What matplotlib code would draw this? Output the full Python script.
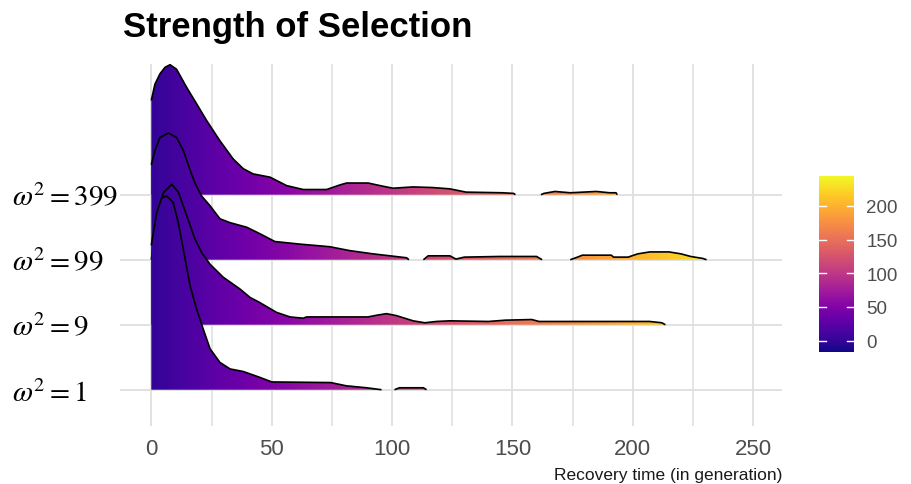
import numpy as np
import matplotlib
matplotlib.use('Agg')
import matplotlib.pyplot as plt
from matplotlib.path import Path
from matplotlib.patches import PathPatch
from matplotlib.colors import Normalize
from matplotlib.cm import ScalarMappable

plt.rcParams['mathtext.fontset'] = 'stix'
plt.rcParams['font.family'] = ['Liberation Sans', 'DejaVu Sans']

nan = np.nan

# group labels, bottom to top
groups = [r'$\omega^2 = 1$', r'$\omega^2 = 9$', r'$\omega^2 = 99$', r'$\omega^2 = 399$']

# recovery time and scaled ridge height (in rows); nan marks a gap in the density
x_w1 = [0, 2.2, 4.3, 6.4, 9.1, 11.2, 13.3, 16.1, 18.8, 21.6, 24.4, 28.5, 32.7, 38.2, 45.1,
        50, 74.5, 81, 89.4, 95.6, nan, 101, 103, 113, 114.3]
h_w1 = [2.22, 2.72, 2.95, 2.98, 2.88, 2.57, 2.16, 1.60, 1.24, 0.93, 0.63, 0.42, 0.32, 0.28, 0.19,
        0.12, 0.11, 0.06, 0.03, 0.0, nan, 0.0, 0.03, 0.03, 0.0]

x_w9 = [0, 2, 5, 8.5, 11.2, 14.7, 18.1, 20.9, 24.4, 29.9, 36.8, 41, 45.1, 52, 57.6, 63.1, 64.5,
        90, 94.2, 97.7, 101.8, 108.7, 113.6, 118.4, 124, 140, 147, 158, 161, 207, 212, 213.5]
h_w9 = [1.0, 1.55, 2.03, 2.16, 2.04, 1.68, 1.32, 1.11, 0.93, 0.73, 0.55, 0.42, 0.34, 0.19, 0.12, 0.10, 0.12,
        0.12, 0.15, 0.17, 0.14, 0.06, 0.03, 0.05, 0.06, 0.05, 0.07, 0.08, 0.05, 0.05, 0.03, 0.0]

x_w99 = [0, 1.5, 3.6, 7.1, 10.5, 13.3, 16.1, 18.1, 20.9, 24.4, 28.5, 32.7, 39.6, 45.1, 51.3, 61.7,
         74.1, 82.4, 92.1, 99.1, 106, 107, nan, 113, 115, 124, 126.5, 130, 144.6, 159, 160, 162.3,
         nan, 174, 177, 179, 191, 192, 198, 202, 207, 215, 220, 224, 229, 230.6]
h_w99 = [1.46, 1.68, 1.88, 1.95, 1.88, 1.68, 1.38, 1.18, 0.98, 0.83, 0.63, 0.57, 0.50, 0.40, 0.28, 0.24,
         0.20, 0.14, 0.09, 0.06, 0.03, 0.0, nan, 0.0, 0.06, 0.06, 0.01, 0.04, 0.05, 0.05, 0.05, 0.0,
         nan, 0.0, 0.04, 0.07, 0.07, 0.04, 0.04, 0.09, 0.12, 0.12, 0.09, 0.05, 0.02, 0.0]

x_w399 = [0, 1.5, 3.6, 5.7, 7.8, 10.5, 14.7, 18.8, 23, 28.5, 34, 38.2, 42.3, 49.3, 56.2, 63.1, 72.8,
          78.3, 81.1, 90, 96.3, 100.4, 108.7, 117, 124, 130.7, 145.9, 150.5, 151.2, nan,
          161.8, 163, 167.6, 174, 184.8, 190.3, 193, 193.5]
h_w399 = [1.45, 1.70, 1.86, 1.96, 2.00, 1.93, 1.65, 1.40, 1.14, 0.83, 0.55, 0.40, 0.32, 0.27, 0.14, 0.08, 0.08,
          0.15, 0.18, 0.18, 0.13, 0.10, 0.12, 0.11, 0.09, 0.04, 0.03, 0.02, 0.0, nan,
          0.0, 0.02, 0.05, 0.03, 0.05, 0.03, 0.03, 0.0]

ridges = [(x_w1, h_w1), (x_w9, h_w9), (x_w99, h_w99), (x_w399, h_w399)]

# fill colour scale range (recovery time)
fill_min, fill_max = -17.3, 244.8
cbar_ticks = [0, 50, 100, 150, 200]
x_major = [0, 50, 100, 150, 200, 250]
x_minor = [25, 75, 125, 175, 225]


def segments(x, h):
    x = np.asarray(x, float)
    h = np.asarray(h, float)
    cuts = np.flatnonzero(np.isnan(h))
    start = 0
    for c in list(cuts) + [len(x)]:
        if c - start > 1:
            yield x[start:c], h[start:c]
        start = c + 1


def ridge_path(x, h, base):
    verts, codes = [], []
    for xs, hs in segments(x, h):
        pts = [(xs[0], base)] + list(zip(xs, hs + base)) + [(xs[-1], base), (xs[0], base)]
        verts += pts
        codes += [Path.MOVETO] + [Path.LINETO] * (len(pts) - 2) + [Path.CLOSEPOLY]
    return Path(verts, codes)


fig = plt.figure(figsize=(9.12, 4.85), dpi=100)
ax = fig.add_axes([120 / 912, 58 / 485, 661.7 / 912, 362 / 485])
norm = Normalize(fill_min, fill_max)
grad = np.linspace(fill_min, fill_max, 600).reshape(1, -1)

# draw top ridge first so lower ridges overlap it
for i in range(len(ridges) - 1, -1, -1):
    x, h = ridges[i]
    z = 10 + (len(ridges) - i) * 2
    im = ax.imshow(grad, cmap='plasma', norm=norm, aspect='auto', origin='lower',
                   extent=(fill_min, fill_max, i, i + 3.5), zorder=z, interpolation='bilinear')
    patch = PathPatch(ridge_path(x, h, i), transform=ax.transData, facecolor='none', edgecolor='none')
    ax.add_patch(patch)
    im.set_clip_path(patch)
    for xs, hs in segments(x, h):
        ax.plot(xs, hs + i, color='black', lw=1.2, zorder=z + 1,
                solid_capstyle='butt', solid_joinstyle='round')

ax.set_xlim(-13.0, 261.8)
ax.set_ylim(-0.558, 5.011)
ax.set_xticks(x_major)
ax.set_xticks(x_minor, minor=True)
ax.set_yticks(range(len(groups)))
ax.set_yticklabels(groups)
ax.grid(True, which='major', color='#dedede', lw=1.3, zorder=0)
ax.grid(True, which='minor', axis='x', color='#dedede', lw=1.1, zorder=0)
ax.set_axisbelow(True)
for s in ax.spines.values():
    s.set_visible(False)
ax.tick_params(axis='both', which='both', length=0)
ax.tick_params(axis='x', labelsize=16, labelcolor='#4d4d4d', pad=9)
ax.tick_params(axis='y', labelsize=21, labelcolor='black', pad=78)
for lab in ax.get_yticklabels():
    lab.set_horizontalalignment('left')

fig.text(123 / 912, (485 - 36.7) / 485, 'Strength of Selection', fontsize=25,
         fontweight='bold', ha='left', va='baseline')
fig.text(782 / 912, (485 - 480) / 485, 'Recovery time (in generation)', fontsize=12.5,
         ha='right', va='baseline', color='#1a1a1a')

cax = fig.add_axes([819 / 912, (485 - 353.3) / 485, 35 / 912, 176.6 / 485])
cb = fig.colorbar(ScalarMappable(norm=norm, cmap='plasma'), cax=cax)
cb.outline.set_visible(False)
cb.set_ticks(cbar_ticks)
cax.tick_params(length=0, labelsize=13.5, labelcolor='#4d4d4d', pad=9)
for v in cbar_ticks:
    cax.plot([0, 0.2], [v, v], color='white', lw=1, transform=cax.get_yaxis_transform())
    cax.plot([0.8, 1], [v, v], color='white', lw=1, transform=cax.get_yaxis_transform())

fig.savefig('out.png', dpi=100)
